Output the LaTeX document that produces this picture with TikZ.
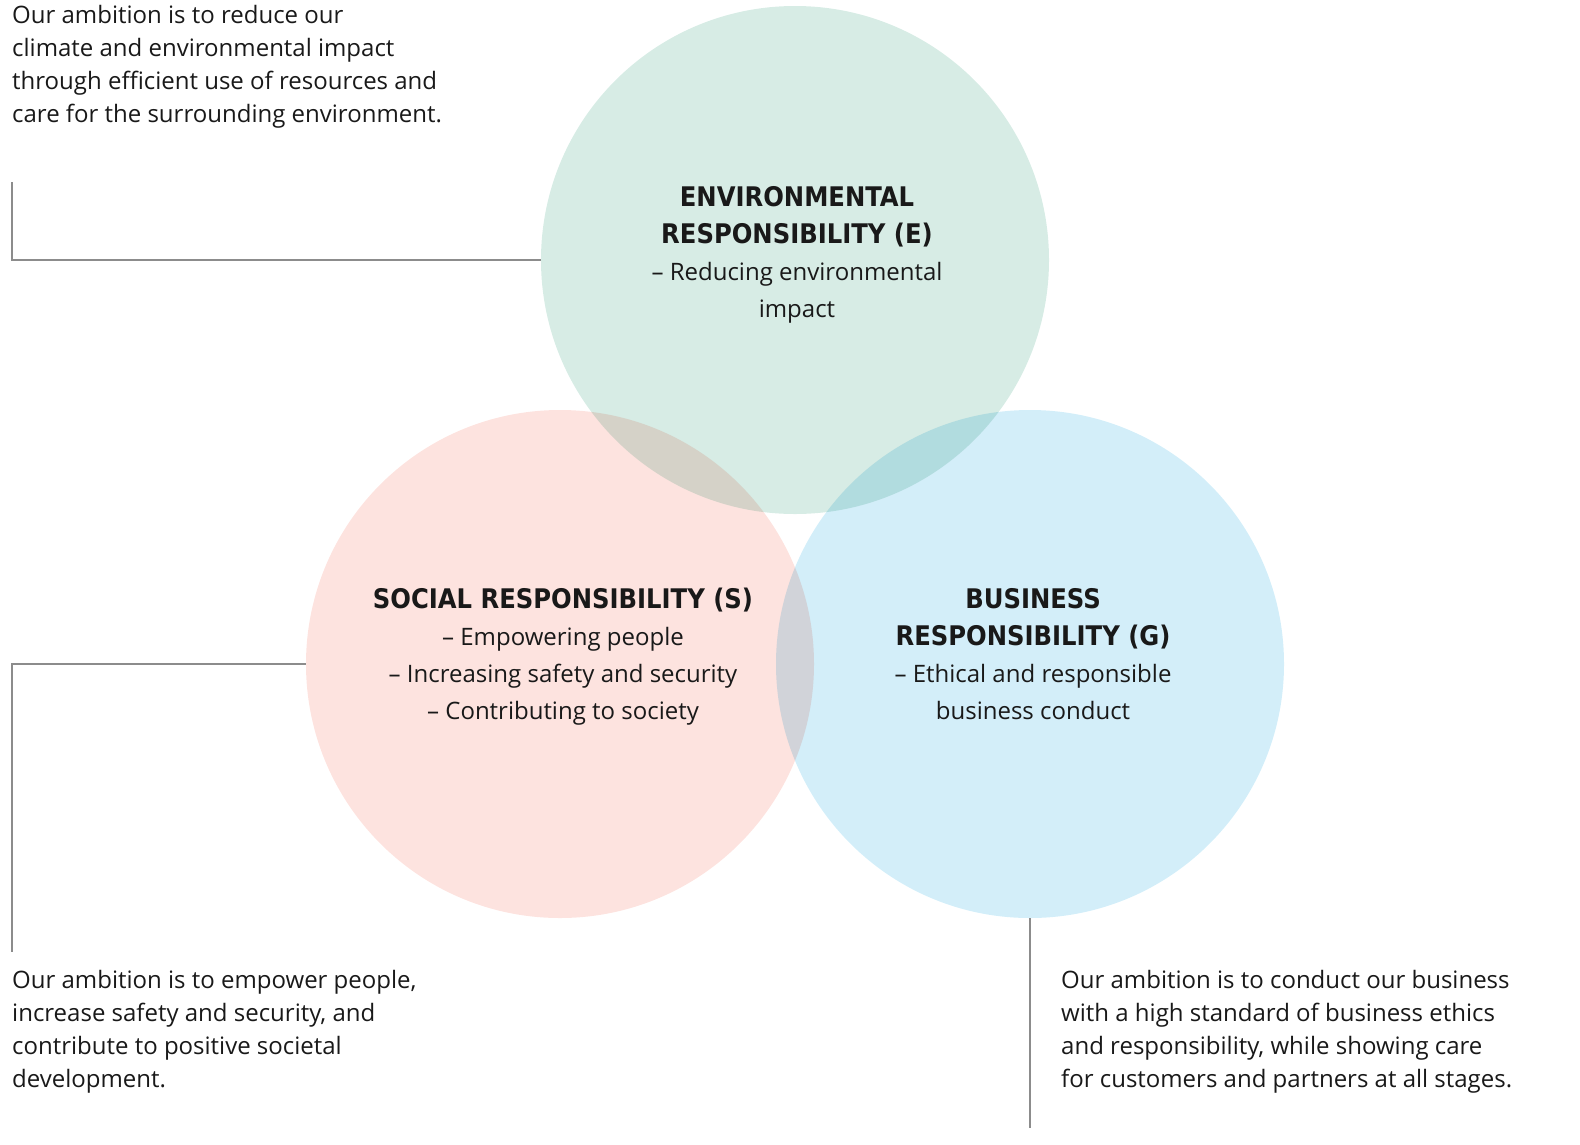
\documentclass[tikz,border=0pt]{standalone}
\usepackage{fontspec}
\setmainfont{Open Sans}
\newfontfamily\headfont{DejaVu Sans Condensed}[BoldFont={DejaVu Sans Condensed Bold}]
\newcommand\hd[1]{{\headfont\bfseries\fontsize{27}{40}\selectfont #1}}
\begin{document}
\begin{tikzpicture}[x=1pt,y=-1pt,
  body/.style={font=\fontsize{24}{37}\selectfont,inner sep=0pt,text=black!90},
  leader/.style={draw=black!45,line width=1.2pt},
  circ/.style={circle,minimum size=508pt,inner sep=0pt,blend mode=multiply}]
\useasboundingbox (0,0) rectangle (1580,1144);
\node[circ,fill={rgb,255:red,215;green,236;blue,229}] (E) at (795,260) {};
\node[circ,fill={rgb,255:red,253;green,227;blue,223}] (S) at (560,664) {};
\node[circ,fill={rgb,255:red,211;green,238;blue,249}] (G) at (1030,664) {};
\node[body,align=center,anchor=north] (et) at (797,186) {\hd{ENVIRONMENTAL}\\\hd{RESPONSIBILITY (E)}\\– Reducing environmental\\impact};
\node[body,align=center,anchor=north] (st) at (563,588) {\hd{SOCIAL RESPONSIBILITY (S)}\\– Empowering people\\– Increasing safety and security\\– Contributing to society};
\node[body,align=center,anchor=north] (gt) at (1033,588) {\hd{BUSINESS}\\\hd{RESPONSIBILITY (G)}\\– Ethical and responsible\\business conduct};
\node[body,align=left,anchor=north west,font=\fontsize{24}{33}\selectfont] (ed) at (12,5) {Our ambition is to reduce our\\climate and environmental impact\\through efficient use of resources and\\care for the surrounding environment.};
\node[body,align=left,anchor=north west,font=\fontsize{24}{33}\selectfont] (sd) at (12,970) {Our ambition is to empower people,\\increase safety and security, and\\contribute to positive societal\\development.};
\node[body,align=left,anchor=north west,font=\fontsize{24}{33}\selectfont] (gd) at (1061,970) {Our ambition is to conduct our business\\with a high standard of business ethics\\and responsibility, while showing care\\for customers and partners at all stages.};
\coordinate (e1) at (12,182); \coordinate (s1) at (12,952); \coordinate (g1) at (1030,1128);
\draw[leader] (e1) |- (E.west);
\draw[leader] (S.west) -| (s1);
\draw[leader] (G.south) -- (g1);
\end{tikzpicture}
\end{document}
